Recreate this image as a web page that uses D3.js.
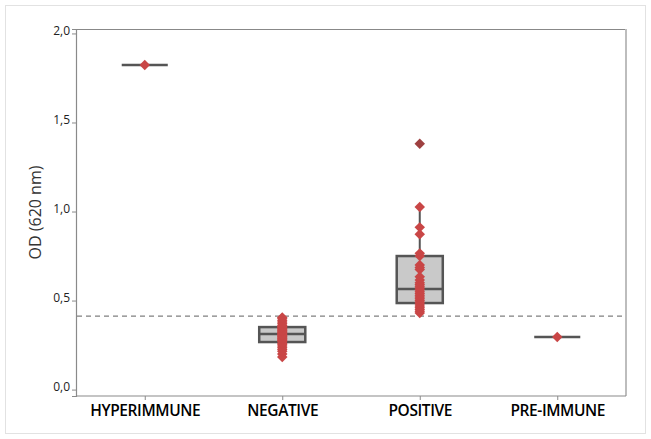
<!DOCTYPE html>
<html>
<head>
<meta charset="utf-8">
<script src="https://cdn.jsdelivr.net/npm/d3@7"></script>
<style>
  html, body { margin: 0; padding: 0; background: #fff; }
  svg { display: block; }
</style>
</head>
<body>
<svg id="chart" width="651" height="439"></svg>
<script>
// ---- data ----
const categories = ["HYPERIMMUNE", "NEGATIVE", "POSITIVE", "PRE-IMMUNE"];
const yTicks = [0.0, 0.5, 1.0, 1.5, 2.0];
const cutoff = 0.413;

// box statistics: [whiskerLow, q1, median, q3, whiskerHigh]
const boxHyperimmune = [1.823, 1.823, 1.823, 1.823, 1.823];
const boxNegative    = [0.183, 0.267, 0.312, 0.351, 0.405];
const boxPositive    = [0.43, 0.486, 0.565, 0.75, 1.025];
const boxPreimmune   = [0.295, 0.295, 0.295, 0.295, 0.295];

const ptsHyperimmune = [1.823];
const ptsNegative = [0.183, 0.20, 0.215, 0.225, 0.235, 0.245, 0.255, 0.26, 0.27, 0.275, 0.28, 0.285,
                     0.29, 0.295, 0.30, 0.305, 0.31, 0.315, 0.32, 0.325, 0.33, 0.335, 0.34, 0.345,
                     0.35, 0.355, 0.36, 0.37, 0.38, 0.39, 0.40, 0.405];
const ptsPositive = [1.025, 0.911, 0.872, 0.765, 0.75, 0.70, 0.685, 0.675, 0.634, 0.615, 0.60, 0.59,
                     0.58, 0.57, 0.56, 0.55, 0.54, 0.53, 0.52, 0.51, 0.50, 0.49, 0.48, 0.47,
                     0.46, 0.45, 0.44, 0.43];
const outPositive = [1.38];
const ptsPreimmune = [0.295];

const boxes = [boxHyperimmune, boxNegative, boxPositive, boxPreimmune];
const points = [ptsHyperimmune, ptsNegative, ptsPositive, ptsPreimmune];
const outliers = [[], [], outPositive, []];

// ---- layout ----
const svg = d3.select("#chart");
const W = 651, H = 439;
const plot = { left: 76, right: 626, top: 29, bottom: 396 };

svg.append("rect")
  .attr("x", 5.5).attr("y", 5.5).attr("width", W - 11).attr("height", H - 11)
  .attr("fill", "#fff").attr("stroke", "#e2e2e2").attr("stroke-width", 1);

const x = d3.scalePoint().domain(categories).range([plot.left, plot.right]).padding(0.5);
const y = d3.scaleLinear().domain([-0.036, 2.025]).range([plot.bottom, plot.top]);
const boxW = x.step() * 0.335;

// frame: top & right lighter
svg.append("line").attr("x1", plot.left).attr("x2", plot.right)
  .attr("y1", plot.top + 0.5).attr("y2", plot.top + 0.5)
  .attr("stroke", "#888").attr("stroke-width", 1);
svg.append("line").attr("x1", plot.right).attr("x2", plot.right)
  .attr("y1", plot.top).attr("y2", plot.bottom)
  .attr("stroke", "#bdbdbd").attr("stroke-width", 2);

// y axis
const yAxis = d3.axisLeft(y).tickValues(yTicks).tickSize(4).tickPadding(2)
  .tickFormat(d => d3.format(".1f")(d).replace(".", ","));
const gy = svg.append("g").attr("transform", `translate(${plot.left},0)`).call(yAxis);
gy.select(".domain").attr("stroke", "#8a8a8a").attr("stroke-width", 1.2);
gy.selectAll(".tick line").attr("stroke", "#8a8a8a");
gy.selectAll(".tick text").attr("font-family", "'Open Sans', sans-serif")
  .attr("font-size", 12).attr("fill", "#222").attr("dy", "0.05em");

// x axis
const xAxis = d3.axisBottom(x).tickSize(4).tickPadding(5).tickSizeOuter(0);
const gx = svg.append("g").attr("transform", `translate(0,${plot.bottom})`).call(xAxis);
gx.select(".domain").attr("stroke", "#8a8a8a").attr("stroke-width", 1.2)
  .attr("d", `M${plot.left},0H${plot.right}`);
gx.selectAll(".tick line").attr("stroke", "#8a8a8a");
gx.selectAll(".tick text").attr("font-family", "'Open Sans', sans-serif")
  .attr("font-size", 15.5).attr("font-weight", 600).attr("fill", "#000")
  .attr("letter-spacing", "-0.4px");

// y label
svg.append("text")
  .attr("transform", `translate(41,${(plot.top + plot.bottom) / 2}) rotate(-90)`)
  .attr("text-anchor", "middle")
  .attr("font-family", "'Open Sans', sans-serif").attr("font-size", 16)
  .attr("fill", "#333").text("OD (620 nm)");

// cutoff dashed line
svg.append("line")
  .attr("x1", plot.left + 1).attr("x2", plot.right - 1)
  .attr("y1", y(cutoff)).attr("y2", y(cutoff))
  .attr("stroke", "#808080").attr("stroke-width", 1.2).attr("stroke-dasharray", "5,4");

// boxes
const boxColor = "#555";
categories.forEach((c, i) => {
  const [lo, q1, med, q3, hi] = boxes[i];
  const cx = x(c);
  const g = svg.append("g");
  g.append("line").attr("x1", cx).attr("x2", cx).attr("y1", y(q3)).attr("y2", y(hi))
    .attr("stroke", boxColor).attr("stroke-width", 2);
  g.append("line").attr("x1", cx).attr("x2", cx).attr("y1", y(q1)).attr("y2", y(lo))
    .attr("stroke", boxColor).attr("stroke-width", 2);
  if (q3 > q1) {
    g.append("rect").attr("x", cx - boxW / 2).attr("width", boxW)
      .attr("y", y(q3)).attr("height", y(q1) - y(q3))
      .attr("fill", "#c9c9c9").attr("stroke", boxColor).attr("stroke-width", 2.5);
  }
  g.append("line").attr("x1", cx - boxW / 2).attr("x2", cx + boxW / 2)
    .attr("y1", y(med)).attr("y2", y(med))
    .attr("stroke", boxColor).attr("stroke-width", 2.5);
});

// points
const diamond = d3.symbol().type(d3.symbolDiamond2).size(70);
categories.forEach((c, i) => {
  svg.append("g").selectAll("path").data(points[i]).join("path")
    .attr("d", diamond)
    .attr("transform", d => `translate(${x(c)},${y(d)})`)
    .attr("fill", "#c94646");
  svg.append("g").selectAll("path").data(outliers[i]).join("path")
    .attr("d", diamond)
    .attr("transform", d => `translate(${x(c)},${y(d)})`)
    .attr("fill", "#9e4040");
});
</script>
</body>
</html>
